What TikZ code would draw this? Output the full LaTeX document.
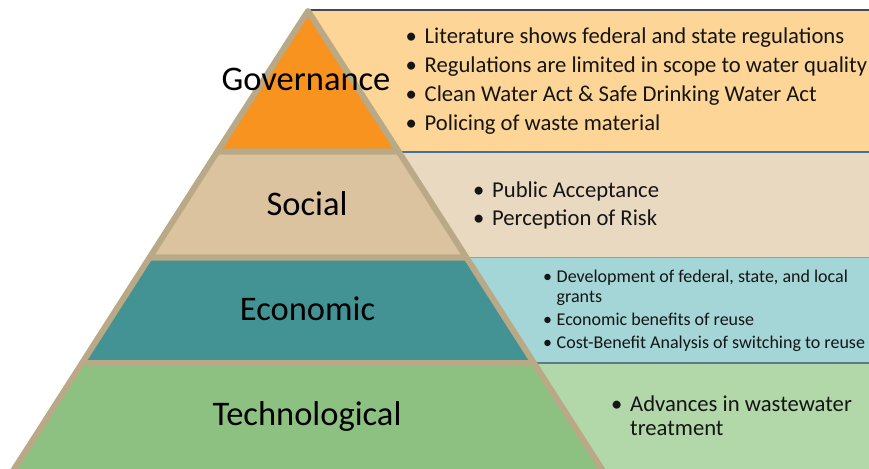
\documentclass[tikz,border=0pt]{standalone}
\usepackage{fontspec}
\setmainfont{Carlito}
\definecolor{tanline}{HTML}{B9A987}
\definecolor{orangeT}{HTML}{F8931F}
\definecolor{socialT}{HTML}{DCC39F}
\definecolor{econT}{HTML}{439294}
\definecolor{techT}{HTML}{8DC182}
\definecolor{govB}{HTML}{FDD596}
\definecolor{socB}{HTML}{EAD9C1}
\definecolor{ecoB}{HTML}{A4D5D7}
\definecolor{tecB}{HTML}{B2D7A9}
\definecolor{lineTop}{HTML}{404850}
\definecolor{lineGS}{HTML}{41719C}
\definecolor{lineSE}{HTML}{8FAA70}
\definecolor{lineET}{HTML}{5F7890}
\definecolor{txt}{HTML}{151515}
\begin{document}
\begin{tikzpicture}[x=1pt,y=-1pt,
  lbl/.style={font=\fontsize{34.5}{38}\selectfont, anchor=base, inner sep=0pt, text=black},
  bigtxt/.style={font=\fontsize{22.65}{26}\selectfont, anchor=base west, inner sep=0pt, text=txt},
  smalltxt/.style={font=\fontsize{18}{22}\selectfont, anchor=base west, inner sep=0pt, text=txt},
  tier/.style={draw=tanline, line width=6pt, line join=round},
  sep/.style={line width=1.5pt}]
\useasboundingbox (0,0) rectangle (869,468);
\clip (0,0) rectangle (869,468);
% right boxes
\fill[govB] (310,10) rectangle (880,152);
\fill[socB] (380,152) rectangle (880,257.5);
\fill[ecoB] (450,257.5) rectangle (880,363);
\fill[tecB] (520,363) rectangle (880,480);
\draw[sep, lineTop] (310,10) -- (880,10);
\draw[sep, lineGS] (380,152) -- (880,152);
\draw[sep, lineSE] (450,257.5) -- (880,257.5);
\draw[sep, lineET] (520,363) -- (880,363);
% pyramid tiers
\filldraw[tier, fill=orangeT] (308,11) -- (398.56,151.5) -- (217.44,151.5) -- cycle;
\filldraw[tier, fill=socialT] (217.44,151.5) -- (398.56,151.5) -- (466.4,257.5) -- (149.6,257.5) -- cycle;
\filldraw[tier, fill=econT] (149.6,257.5) -- (466.4,257.5) -- (533.9,363) -- (82.1,363) -- cycle;
\filldraw[tier, fill=techT] (82.1,363) -- (533.9,363) -- (608.8,480) -- (7.2,480) -- cycle;
% tier labels
\node[lbl] (gov) at (306,90.7) {Governance};
\node[lbl] (soc) at (307,215) {Social};
\node[lbl] (eco) at (307.5,320) {Economic};
\node[lbl] (tec) at (307,425.7) {Technological};
% governance items
\node[bigtxt] (g1) at (405.5,44) {\makebox[19pt][l]{•}Literature shows federal and state regulations};
\node[bigtxt] (g2) at (405.5,72.7) {\makebox[19pt][l]{•}Regulations are limited in scope to water quality};
\node[bigtxt] (g3) at (405.5,101.3) {\makebox[19pt][l]{•}Clean Water Act \& Safe Drinking Water Act};
\node[bigtxt] (g4) at (405.5,130) {\makebox[19pt][l]{•}Policing of waste material};
% social items
\node[bigtxt] (s1) at (473,197) {\makebox[19pt][l]{•}Public Acceptance};
\node[bigtxt] (s2) at (473,225) {\makebox[19pt][l]{•}Perception of Risk};
% economic items
\node[smalltxt] (e1) at (543,282.7) {\makebox[13.5pt][l]{•}Development of federal, state, and local};
\node[smalltxt] (e1b) at (556.5,302.7) {grants};
\node[smalltxt] (e2) at (543,325.3) {\makebox[13.5pt][l]{•}Economic benefits of reuse};
\node[smalltxt] (e3) at (543,348.3) {\makebox[13.5pt][l]{•}Cost-Benefit Analysis of switching to reuse};
% technological items
\node[bigtxt] (t1) at (611,411.7) {\makebox[19pt][l]{•}Advances in wastewater};
\node[bigtxt] (t1b) at (630,435) {treatment};
\end{tikzpicture}
\end{document}
